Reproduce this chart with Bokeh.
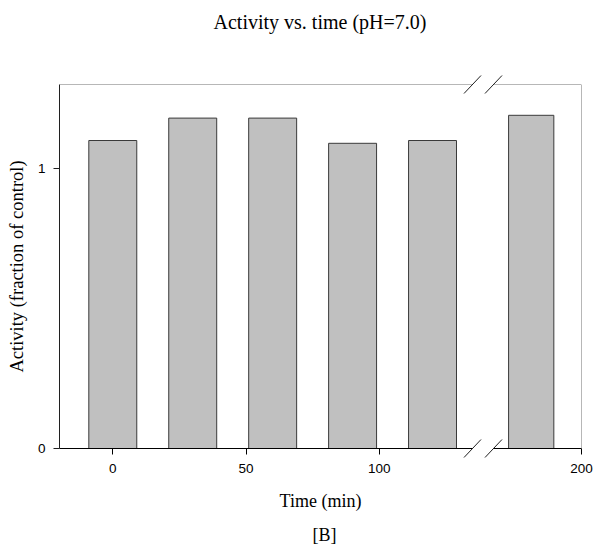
from bokeh.plotting import figure
from bokeh.models import Range1d, FixedTicker, Span, Label, GridBox
from bokeh.embed import file_html
from bokeh.resources import INLINE

# ---- data ----
times = [0, 30, 60, 90, 120, 180]
activity = [1.10, 1.18, 1.18, 1.09, 1.10, 1.19]
left_ticks = [0, 50, 100]
right_ticks = [200]
y_ticks = [0, 1]
title_text = "Activity vs. time (pH=7.0)"
x_label = "Time (min)"
y_label = "Activity (fraction of control)"
panel_tag = "[B]"

# ---- axis segments (broken x axis) ----
X_LEFT = (-20, 135)
X_RIGHT = (165, 200)
Y_RANGE = (0, 1.3)
BAR_W = 18

SERIF = "Liberation Serif"
SANS = "Liberation Sans"

H = 547
TOP, BOTTOM = 84, 99
L_LEFT, L_FRAME, L_RIGHT = 59, 413, 10
R_LEFT, R_FRAME, R_RIGHT = 11, 88, 13
FRAME_H = H - TOP - BOTTOM
WL = L_LEFT + L_FRAME + L_RIGHT
WR = R_LEFT + R_FRAME + R_RIGHT


def xdata(page_x):
    return X_LEFT[0] + (page_x - L_LEFT) * (X_LEFT[1] - X_LEFT[0]) / L_FRAME


def ydata(page_y):
    return Y_RANGE[1] - (page_y - TOP) * (Y_RANGE[1] - Y_RANGE[0]) / FRAME_H


def make_fig(xr, w, bl, br):
    f = figure(width=w, height=H, x_range=Range1d(*xr), y_range=Range1d(*Y_RANGE),
               output_backend="svg", toolbar_location=None,
               min_border_left=bl, min_border_right=br,
               min_border_top=TOP, min_border_bottom=BOTTOM)
    f.grid.visible = False
    f.outline_line_color = None
    f.background_fill_color = "white"
    f.border_fill_color = "white"
    seg_t = [t for t in times if xr[0] <= t <= xr[1]]
    seg_v = [v for t, v in zip(times, activity) if xr[0] <= t <= xr[1]]
    f.vbar(x=seg_t, top=seg_v, bottom=0, width=BAR_W,
           fill_color="#c0c0c0", line_color="#3a3a3a", line_width=1)
    f.xaxis.major_label_text_font = SANS
    f.xaxis.major_label_text_font_size = "13.5px"
    f.xaxis.major_label_text_color = "black"
    f.xaxis.major_tick_out = 6
    f.xaxis.major_tick_in = 0
    f.xaxis.minor_tick_line_color = None
    f.xaxis.major_label_standoff = 9
    f.xaxis.axis_line_color = "black"
    f.xaxis.major_tick_line_color = "black"
    # top frame line
    f.add_layout(Span(location=Y_RANGE[1], dimension="width",
                      line_color="#707070", line_width=1))
    return f


left = make_fig(X_LEFT, WL, L_LEFT, L_RIGHT)
left.xaxis.ticker = FixedTicker(ticks=left_ticks)
left.yaxis.ticker = FixedTicker(ticks=y_ticks)
left.yaxis.major_label_text_font = SANS
left.yaxis.major_label_text_font_size = "13.5px"
left.yaxis.major_label_text_color = "black"
left.yaxis.major_tick_out = 6
left.yaxis.major_tick_in = 0
left.yaxis.minor_tick_line_color = None
left.yaxis.major_label_standoff = 8
left.yaxis.axis_line_color = "#202020"
left.yaxis.major_tick_line_color = "#202020"
left.yaxis.axis_label = y_label
left.yaxis.axis_label_text_font = SERIF
left.yaxis.axis_label_text_font_size = "18.5px"
left.yaxis.axis_label_text_font_style = "normal"
left.yaxis.axis_label_text_color = "black"
left.yaxis.axis_label_standoff = 8

right = make_fig(X_RIGHT, WR, R_LEFT, R_RIGHT)
right.yaxis.visible = False
right.xaxis.ticker = FixedTicker(ticks=right_ticks)
right.add_layout(Span(location=X_RIGHT[1], dimension="height",
                      line_color="#707070", line_width=1))

# texts (side panels, so that they are not clipped to the frame)
left.add_layout(Label(x=xdata(319.5), y=ydata(21.5), text=title_text,
                      text_align="center", text_baseline="alphabetic",
                      text_font=SERIF, text_font_size="20px", text_color="black"), "above")
left.add_layout(Label(x=xdata(320), y=ydata(500.5), text=x_label,
                      text_align="center", text_baseline="alphabetic",
                      text_font=SERIF, text_font_size="18px", text_color="black"), "below")
left.add_layout(Label(x=xdata(324), y=ydata(534.5), text=panel_tag,
                      text_align="center", text_baseline="alphabetic",
                      text_font=SERIF, text_font_size="18px", text_color="black"), "below")

# transparent overlay (same data units as the left panel) carrying the axis-break marks
overlay = figure(width=WL + WR, height=H, title=None,
                 x_range=Range1d(xdata(0), xdata(WL + WR)),
                 y_range=Range1d(ydata(H), ydata(0)),
                 output_backend="svg", toolbar_location=None,
                 x_axis_location=None, y_axis_location=None,
                 min_border=0, min_border_left=0, min_border_right=0,
                 min_border_top=0, min_border_bottom=0)
overlay.frame_align = False
overlay.grid.visible = False
overlay.outline_line_color = None
overlay.background_fill_color = None
overlay.border_fill_color = None

DX = 8.5 * (X_LEFT[1] - X_LEFT[0]) / L_FRAME
DY = 9 * (Y_RANGE[1] - Y_RANGE[0]) / FRAME_H
break_edges = [X_LEFT[1], xdata(WL + R_LEFT)]
x0, y0, x1, y1 = [], [], [], []
for xb in break_edges:
    for yb in Y_RANGE:
        x0.append(xb - DX)
        y0.append(yb - DY)
        x1.append(xb + DX)
        y1.append(yb + DY)
overlay.segment(x0=x0, y0=y0, x1=x1, y1=y1, line_color="#202020", line_width=1)

layout = GridBox(children=[(left, 0, 0), (right, 0, 1), (overlay, 0, 0, 1, 2)], spacing=0)

open("out.html", "w").write(file_html(layout, INLINE))
